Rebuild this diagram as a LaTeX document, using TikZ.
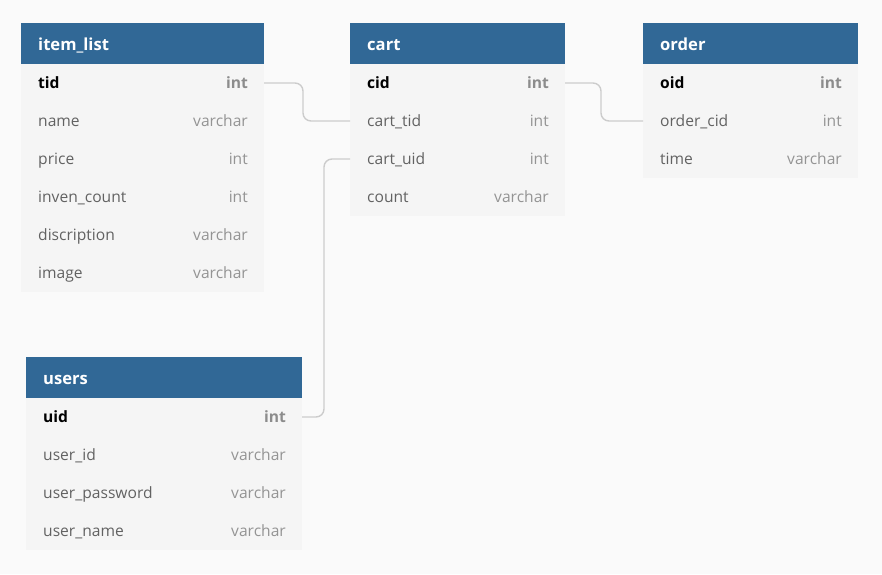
\documentclass[tikz,border=0pt]{standalone}
\usepackage{fontspec}
\setmainfont{Open Sans}
\definecolor{bgc}{HTML}{FAFAFA}
\definecolor{headc}{HTML}{316896}
\definecolor{bodyc}{HTML}{F5F5F5}
\definecolor{namec}{HTML}{626262}
\definecolor{typec}{HTML}{949494}
\definecolor{pktypec}{HTML}{8C8C8C}
\definecolor{connc}{HTML}{CCCCCC}
\tikzset{
  head/.style={fill=headc, draw=none, inner sep=0pt, outer sep=0pt, minimum height=41pt, anchor=north west},
  row/.style={fill=bodyc, draw=none, inner sep=0pt, outer sep=0pt, minimum height=38pt, anchor=north west},
  htext/.style={text=white, font=\fontsize{16.6}{19}\selectfont\bfseries, inner sep=0pt, anchor=base west},
  fname/.style={text=namec, font=\fontsize{15.6}{18}\selectfont, inner sep=0pt, anchor=base west},
  ftype/.style={text=typec, font=\fontsize{15.6}{18}\selectfont, inner sep=0pt, anchor=base east},
  pkname/.style={text=black, font=\fontsize{15.6}{18}\selectfont\bfseries, inner sep=0pt, anchor=base west},
  pktype/.style={text=pktypec, font=\fontsize{15.6}{18}\selectfont\bfseries, inner sep=0pt, anchor=base east},
  conn/.style={draw=connc, line width=1.4pt, rounded corners=8pt}
}
\begin{document}
\begin{tikzpicture}[x=1pt,y=-1pt]
\fill[bgc] (0,0) rectangle (882,574);
\useasboundingbox (0,0) rectangle (882,574);

% ---------- item_list ----------
\node[head, minimum width=243pt] (ilh) at (21,23) {};
\node[htext] (ilht) at ([xshift=17pt,yshift=-6.8pt]ilh.west) {item\_list};
\foreach \i in {1,...,6} {
  \node[row, minimum width=243pt] (il\i) at (21,{64+38*(\i-1)}) {};
}
\node[pkname] (il1n) at ([xshift=17pt,yshift=-5.8pt]il1.west) {tid};
\node[pktype] (il1t) at ([xshift=-16pt,yshift=-5.8pt]il1.east) {int};
\node[fname] (il2n) at ([xshift=17pt,yshift=-5.8pt]il2.west) {name};
\node[ftype] (il2t) at ([xshift=-16pt,yshift=-5.8pt]il2.east) {varchar};
\node[fname] (il3n) at ([xshift=17pt,yshift=-5.8pt]il3.west) {price};
\node[ftype] (il3t) at ([xshift=-16pt,yshift=-5.8pt]il3.east) {int};
\node[fname] (il4n) at ([xshift=17pt,yshift=-5.8pt]il4.west) {inven\_count};
\node[ftype] (il4t) at ([xshift=-16pt,yshift=-5.8pt]il4.east) {int};
\node[fname] (il5n) at ([xshift=17pt,yshift=-5.8pt]il5.west) {discription};
\node[ftype] (il5t) at ([xshift=-16pt,yshift=-5.8pt]il5.east) {varchar};
\node[fname] (il6n) at ([xshift=17pt,yshift=-5.8pt]il6.west) {image};
\node[ftype] (il6t) at ([xshift=-16pt,yshift=-5.8pt]il6.east) {varchar};

% ---------- cart ----------
\node[head, minimum width=215pt] (ch) at (350,23) {};
\node[htext] (cht) at ([xshift=17pt,yshift=-6.8pt]ch.west) {cart};
\foreach \i in {1,...,4} {
  \node[row, minimum width=215pt] (c\i) at (350,{64+38*(\i-1)}) {};
}
\node[pkname] (c1n) at ([xshift=17pt,yshift=-5.8pt]c1.west) {cid};
\node[pktype] (c1t) at ([xshift=-16pt,yshift=-5.8pt]c1.east) {int};
\node[fname] (c2n) at ([xshift=17pt,yshift=-5.8pt]c2.west) {cart\_tid};
\node[ftype] (c2t) at ([xshift=-16pt,yshift=-5.8pt]c2.east) {int};
\node[fname] (c3n) at ([xshift=17pt,yshift=-5.8pt]c3.west) {cart\_uid};
\node[ftype] (c3t) at ([xshift=-16pt,yshift=-5.8pt]c3.east) {int};
\node[fname] (c4n) at ([xshift=17pt,yshift=-5.8pt]c4.west) {count};
\node[ftype] (c4t) at ([xshift=-16pt,yshift=-5.8pt]c4.east) {varchar};

% ---------- order ----------
\node[head, minimum width=215pt] (oh) at (643,23) {};
\node[htext] (oht) at ([xshift=17pt,yshift=-6.8pt]oh.west) {order};
\foreach \i in {1,...,3} {
  \node[row, minimum width=215pt] (o\i) at (643,{64+38*(\i-1)}) {};
}
\node[pkname] (o1n) at ([xshift=17pt,yshift=-5.8pt]o1.west) {oid};
\node[pktype] (o1t) at ([xshift=-16pt,yshift=-5.8pt]o1.east) {int};
\node[fname] (o2n) at ([xshift=17pt,yshift=-5.8pt]o2.west) {order\_cid};
\node[ftype] (o2t) at ([xshift=-16pt,yshift=-5.8pt]o2.east) {int};
\node[fname] (o3n) at ([xshift=17pt,yshift=-5.8pt]o3.west) {time};
\node[ftype] (o3t) at ([xshift=-16pt,yshift=-5.8pt]o3.east) {varchar};

% ---------- users ----------
\node[head, minimum width=276pt] (uh) at (26,357) {};
\node[htext] (uht) at ([xshift=17pt,yshift=-6.8pt]uh.west) {users};
\foreach \i in {1,...,4} {
  \node[row, minimum width=276pt] (u\i) at (26,{398+38*(\i-1)}) {};
}
\node[pkname] (u1n) at ([xshift=17pt,yshift=-5.8pt]u1.west) {uid};
\node[pktype] (u1t) at ([xshift=-16pt,yshift=-5.8pt]u1.east) {int};
\node[fname] (u2n) at ([xshift=17pt,yshift=-5.8pt]u2.west) {user\_id};
\node[ftype] (u2t) at ([xshift=-16pt,yshift=-5.8pt]u2.east) {varchar};
\node[fname] (u3n) at ([xshift=17pt,yshift=-5.8pt]u3.west) {user\_password};
\node[ftype] (u3t) at ([xshift=-16pt,yshift=-5.8pt]u3.east) {varchar};
\node[fname] (u4n) at ([xshift=17pt,yshift=-5.8pt]u4.west) {user\_name};
\node[ftype] (u4t) at ([xshift=-16pt,yshift=-5.8pt]u4.east) {varchar};

% ---------- connectors ----------
\draw[conn] (il1.east) -- ++(39,0) -- ++(0,38) -- (c2.west);
\draw[conn] (c1.east) -- ++(36,0) -- ++(0,38) -- (o2.west);
\draw[conn] (c3.west) -- ++(-26,0) -- ++(0,258) -- (u1.east);
\end{tikzpicture}
\end{document}
